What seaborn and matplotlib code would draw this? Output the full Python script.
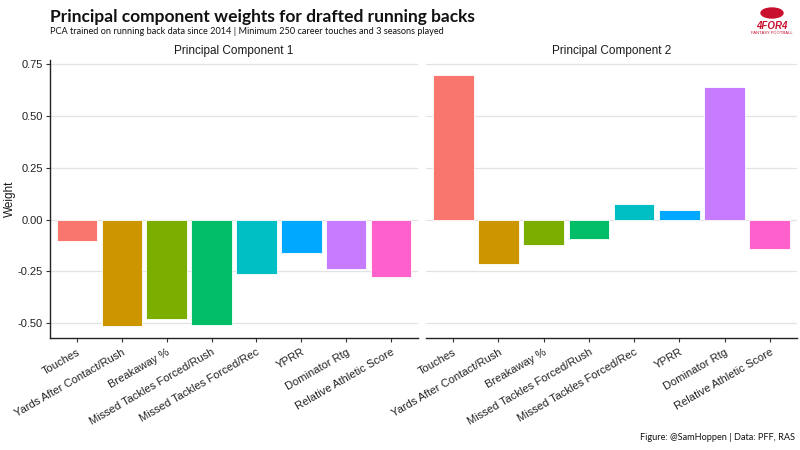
import pandas as pd
import matplotlib.pyplot as plt
import seaborn as sns
from matplotlib.patches import Ellipse

metrics = ["Touches", "Yards After Contact/Rush", "Breakaway %",
           "Missed Tackles Forced/Rush", "Missed Tackles Forced/Rec",
           "YPRR", "Dominator Rtg", "Relative Athletic Score"]
pc1 = [-0.106, -0.515, -0.480, -0.509, -0.261, -0.161, -0.238, -0.277]
pc2 = [0.700, -0.216, -0.124, -0.092, 0.077, 0.048, 0.642, -0.140]
panels = ["Principal Component 1", "Principal Component 2"]
colors = ["#F8766D", "#CD9600", "#7CAE00", "#00BE67",
          "#00BFC4", "#00A9FF", "#C77CFF", "#FF61CC"]
yticks = [-0.50, -0.25, 0.00, 0.25, 0.50, 0.75]

df = pd.DataFrame({
    "metric": metrics * 2,
    "weight": pc1 + pc2,
    "component": [panels[0]] * len(metrics) + [panels[1]] * len(metrics),
})

sns.set_style("white")
plt.rcParams['font.family'] = ['Liberation Sans', 'DejaVu Sans']

fig = plt.figure(figsize=(8, 4.5), dpi=100)
ax1 = fig.add_axes([50 / 800, 112 / 450, 368 / 800, 278 / 450])
ax2 = fig.add_axes([426 / 800, 112 / 450, 371 / 800, 278 / 450])

for ax, comp in zip([ax1, ax2], panels):
    sub = df[df["component"] == comp]
    sns.barplot(data=sub, x="metric", y="weight", hue="metric", order=metrics,
                hue_order=metrics, palette=colors, width=0.9, legend=False,
                saturation=1, edgecolor="white", linewidth=0.6, ax=ax)
    ax.set_xlim(-0.6, len(metrics) - 0.4)
    ax.set_ylim(-0.572, 0.77)
    ax.set_yticks(yticks)
    ax.yaxis.grid(True, color="#e3e3e3", linewidth=0.9)
    ax.set_axisbelow(True)
    ax.set_xlabel("")
    ax.set_title(comp, fontsize=8.5, color="#1a1a1a", pad=4)
    for s in ["top", "right"]:
        ax.spines[s].set_visible(False)
    ax.spines["bottom"].set_color("#222222")
    ax.spines["bottom"].set_linewidth(1.0)
    ax.tick_params(axis="x", bottom=True, length=3, color="#333333",
                   labelsize=8, labelcolor="#222222")
    ax.set_xticks(range(len(metrics)))
    ax.set_xticklabels(metrics, rotation=30, ha="right", rotation_mode="anchor")

ax1.spines["left"].set_color("#222222")
ax1.spines["left"].set_linewidth(1.0)
ax1.tick_params(axis="y", left=True, length=3, pad=2, color="#333333",
                labelsize=8, labelcolor="#222222")
ax1.set_yticklabels(["-0.50", "-0.25", "0.00", "0.25", "0.50", "0.75"])
ax1.set_ylabel("Weight", fontsize=8.5, color="#1a1a1a")
ax1.yaxis.set_label_coords(-0.092, 0.5)

ax2.spines["left"].set_visible(False)
ax2.tick_params(axis="y", left=False, labelleft=False)
ax2.set_ylabel("")

title_font = ['Lato', 'DejaVu Sans']
fig.text(50 / 800, 1 - 17 / 450, "Principal component weights for drafted running backs",
         fontsize=12.5, fontweight="bold", family=title_font, va="center", color="#111111")
fig.text(50 / 800, 1 - 32 / 450,
         "PCA trained on running back data since 2014 | Minimum 250 career touches and 3 seasons played",
         fontsize=6.6, family=title_font, va="center", color="#111111")
fig.text(795 / 800, 1 - 438 / 450, "Figure: @SamHoppen | Data: PFF, RAS",
         fontsize=6.6, family=title_font, ha="right", va="center", color="#111111")

# logo
fig.patches.append(Ellipse((772 / 800, 1 - 13 / 450), 22 / 800, 10 / 450,
                           transform=fig.transFigure, color="#c8102e"))
fig.text(772 / 800, 1 - 26 / 450, "4FOR4", fontsize=7, fontweight="bold",
         ha="center", va="center", color="#c8102e", style="italic")
fig.text(772 / 800, 1 - 33 / 450, "FANTASY FOOTBALL", fontsize=3,
         ha="center", va="center", color="#c8102e")

fig.savefig("out.png", dpi=100)
